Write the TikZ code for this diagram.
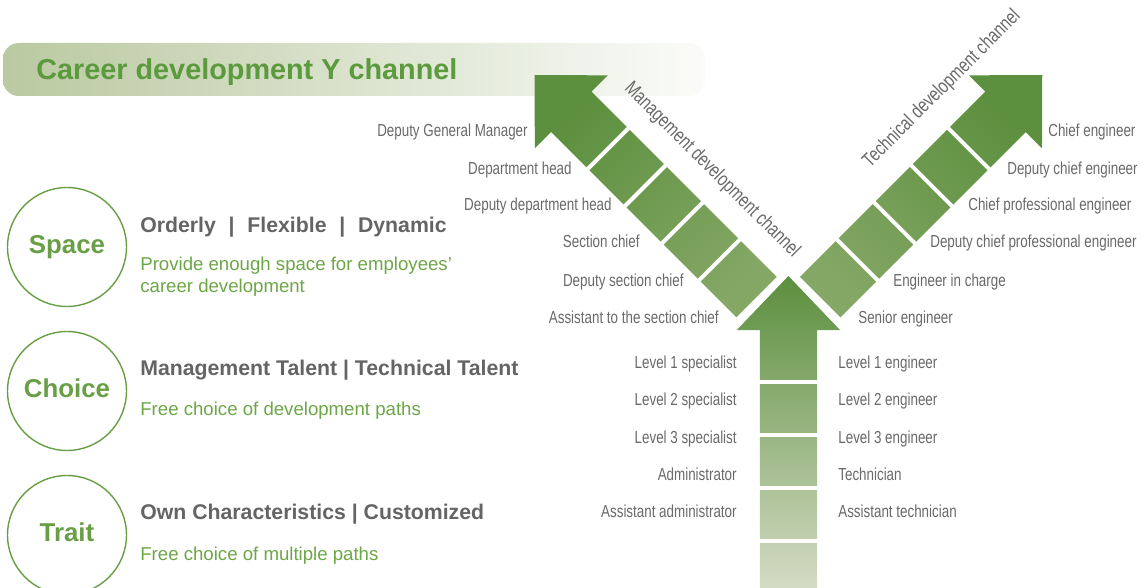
\documentclass[tikz,border=0pt]{standalone}
\usepackage{fontspec}
\setmainfont{Liberation Sans}
\newfontfamily\narrowfont[FakeStretch=0.77]{Liberation Sans}

\definecolor{titlegreen}{RGB}{92,154,62}
\definecolor{ringgreen}{RGB}{104,158,70}
\definecolor{notegreen}{RGB}{108,166,70}
\definecolor{headgray}{RGB}{100,100,100}
\definecolor{rankgray}{RGB}{105,105,105}
\definecolor{barleft}{RGB}{186,201,161}
\definecolor{ydark}{RGB}{92,143,62}
\definecolor{yend}{RGB}{132,167,101}
\definecolor{ylight}{RGB}{212,219,196}

\begin{document}
\begin{tikzpicture}[x=0.02cm,y=-0.02cm]
  \tikzset{rank/.style={inner sep=0pt, text=rankgray, font=\narrowfont\fontsize{9.9}{11}\selectfont}};
  \tikzset{chan/.style={inner sep=0pt, text=rankgray, font=\narrowfont\fontsize{11.3}{13}\selectfont}};
  \tikzset{ring/.style={circle, draw=ringgreen, line width=0.8pt, minimum size=2.38cm, inner sep=0pt,
      text=ringgreen, text height=0.72em, text depth=0pt, font=\bfseries\fontsize{14.7}{16}\selectfont}};
  \tikzset{head/.style={anchor=base west, inner sep=0pt, text=headgray, font=\bfseries\fontsize{12.1}{14}\selectfont}};
  \tikzset{note/.style={anchor=base west, inner sep=0pt, text=notegreen, font=\fontsize{10.6}{12}\selectfont}};
  \tikzset{gap/.style={draw=white, line width=0.08cm}};

  \useasboundingbox (0,0) rectangle (1147,588);

  % title bar
  \shade[left color=barleft, right color=barleft!6, rounded corners=9pt] (3,43) rectangle (705,96);
  \node[anchor=base west, inner sep=0pt, text=titlegreen, font=\bfseries\fontsize{16.4}{18}\selectfont]
    (title) at (36,80) {Career development Y channel};

  % left column
  \node[ring] (space) at (67,247) {Space};
  \node[head] (spacehead) at (140,233) {Orderly\hspace{0.6em}|\hspace{0.6em}Flexible\hspace{0.6em}|\hspace{0.6em}Dynamic};
  \node[note] (spacenote) at (140,271) {Provide enough space for employees'};
  \node[note] (spacenotb) at (140,292) {career development};

  \node[ring] (choice) at (67,391) {Choice};
  \node[head] (choicehead) at (140,375) {Management Talent | Technical Talent};
  \node[note] (choicenote) at (140,415) {Free choice of development paths};

  \node[ring] (trait) at (67,535) {Trait};
  \node[head] (traithead) at (140,519) {Own Characteristics | Customized};
  \node[note] (traitnote) at (140,560) {Free choice of multiple paths};

  % the Y
  \begin{scope}[shift={(788.4,328.9)}, rotate=45]
    \shade[top color=ydark, bottom color=yend, shading angle=45]
      (-28.6,-45) -- (-28.6,-307) -- (-51.6,-307) -- (0,-359) -- (51.6,-307) -- (28.6,-307) -- (28.6,-45) -- cycle;
    \foreach \d in {97.5,150,202.5,255}
      \draw[gap] (-32,-\d) -- (32,-\d);
  \end{scope}
  \begin{scope}[shift={(788.4,328.9)}, rotate=-45]
    \shade[top color=ydark, bottom color=yend, shading angle=-45]
      (-28.6,-45) -- (-28.6,-307) -- (-51.6,-307) -- (0,-359) -- (51.6,-307) -- (28.6,-307) -- (28.6,-45) -- cycle;
    \foreach \d in {97.5,150,202.5,255}
      \draw[gap] (-32,-\d) -- (32,-\d);
  \end{scope}
  \shade[top color=ydark, bottom color=ylight]
    (759.8,588) -- (759.8,330) -- (736.8,330) -- (788.4,276) -- (840,330) -- (817,330) -- (817,588) -- cycle;
  \foreach \y in {381.5,435,488,541}
    \draw[gap] (755,\y) -- (822,\y);

  \node[chan, rotate=-45] (mgmt) at (712,170) {Management development channel};
  \node[chan, rotate=45] (tech) at (942,89) {Technical development channel};

  % management ranks
  \node[rank, anchor=base east] (m1) at (528,137) {Deputy General Manager};
  \node[rank, anchor=base east] (m2) at (572,174) {Department head};
  \node[rank, anchor=base east] (m3) at (612,211) {Deputy department head};
  \node[rank, anchor=base east] (m4) at (640,248) {Section chief};
  \node[rank, anchor=base east] (m5) at (684,286) {Deputy section chief};
  \node[rank, anchor=base east] (m6) at (719,323) {Assistant to the section chief};

  % technical ranks
  \node[rank, anchor=base west] (t1) at (1048,137) {Chief engineer};
  \node[rank, anchor=base west] (t2) at (1007,174) {Deputy chief engineer};
  \node[rank, anchor=base west] (t3) at (968,211) {Chief professional engineer};
  \node[rank, anchor=base west] (t4) at (930,248) {Deputy chief professional engineer};
  \node[rank, anchor=base west] (t5) at (893,286) {Engineer in charge};
  \node[rank, anchor=base west] (t6) at (858,323) {Senior engineer};

  % common ranks
  \node[rank, anchor=base east] (s1) at (737,368) {Level 1 specialist};
  \node[rank, anchor=base east] (s2) at (737,405) {Level 2 specialist};
  \node[rank, anchor=base east] (s3) at (737,443) {Level 3 specialist};
  \node[rank, anchor=base east] (s4) at (737,480) {Administrator};
  \node[rank, anchor=base east] (s5) at (737,517) {Assistant administrator};

  \node[rank, anchor=base west] (e1) at (838,368) {Level 1 engineer};
  \node[rank, anchor=base west] (e2) at (838,405) {Level 2 engineer};
  \node[rank, anchor=base west] (e3) at (838,443) {Level 3 engineer};
  \node[rank, anchor=base west] (e4) at (838,480) {Technician};
  \node[rank, anchor=base west] (e5) at (838,517) {Assistant technician};
\end{tikzpicture}
\end{document}
